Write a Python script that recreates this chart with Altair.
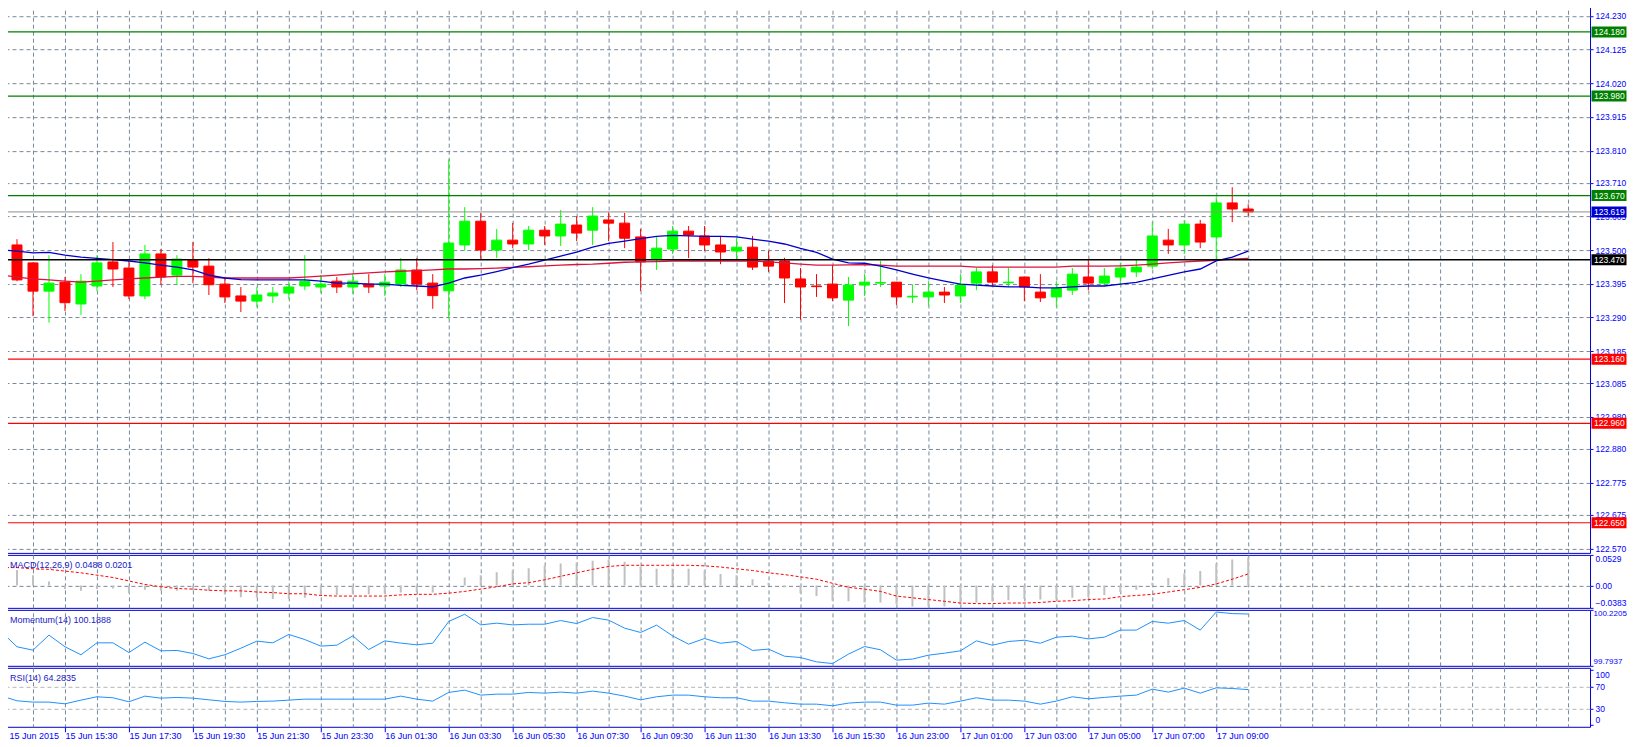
import json
import numpy as np
import pandas as pd
import altair as alt

# ---------------- data (USDJPY-like M30 bars) ----------------
opens = [123.590, 123.516, 123.460, 123.372, 123.400, 123.332, 123.388, 123.463, 123.444, 123.357,
         123.488, 123.422, 123.468, 123.450, 123.394, 123.357, 123.341, 123.357, 123.366, 123.388,
         123.385, 123.403, 123.385, 123.394, 123.388, 123.394, 123.438, 123.397, 123.373, 123.516,
         123.590, 123.500, 123.531, 123.519, 123.562, 123.544, 123.578, 123.562, 123.594, 123.584,
         123.541, 123.472, 123.503, 123.559, 123.544, 123.516, 123.497, 123.509, 123.466, 123.466,
         123.410, 123.388, 123.394, 123.344, 123.391, 123.397, 123.400, 123.354, 123.354, 123.369,
         123.357, 123.397, 123.432, 123.398, 123.416, 123.369, 123.354, 123.375, 123.416, 123.397,
         123.416, 123.432, 123.450, 123.531, 123.516, 123.581, 123.541, 123.647, 123.628]
highs = [123.616, 123.534, 123.462, 123.484, 123.416, 123.425, 123.484, 123.525, 123.466, 123.516,
         123.503, 123.484, 123.525, 123.475, 123.414, 123.385, 123.385, 123.385, 123.403, 123.484,
         123.422, 123.416, 123.425, 123.425, 123.425, 123.475, 123.475, 123.425, 123.783, 123.634,
         123.616, 123.566, 123.585, 123.575, 123.575, 123.625, 123.606, 123.634, 123.618, 123.616,
         123.566, 123.541, 123.575, 123.575, 123.575, 123.544, 123.537, 123.544, 123.497, 123.476,
         123.444, 123.425, 123.453, 123.416, 123.425, 123.466, 123.401, 123.393, 123.403, 123.385,
         123.425, 123.445, 123.453, 123.444, 123.417, 123.425, 123.403, 123.444, 123.469, 123.444,
         123.460, 123.469, 123.587, 123.566, 123.594, 123.594, 123.665, 123.696, 123.643]
lows = [123.492, 123.403, 123.294, 123.274, 123.310, 123.298, 123.372, 123.385, 123.347, 123.347,
        123.392, 123.392, 123.397, 123.360, 123.335, 123.307, 123.322, 123.335, 123.347, 123.375,
        123.366, 123.366, 123.363, 123.366, 123.357, 123.385, 123.375, 123.317, 123.286, 123.498,
        123.473, 123.475, 123.506, 123.500, 123.516, 123.513, 123.528, 123.516, 123.528, 123.506,
        123.372, 123.438, 123.488, 123.475, 123.497, 123.456, 123.469, 123.438, 123.432, 123.335,
        123.283, 123.354, 123.341, 123.263, 123.357, 123.385, 123.329, 123.335, 123.326, 123.335,
        123.335, 123.375, 123.388, 123.385, 123.341, 123.338, 123.322, 123.360, 123.375, 123.388,
        123.391, 123.416, 123.441, 123.488, 123.488, 123.506, 123.466, 123.587, 123.606]
closes = [123.510, 123.407, 123.372, 123.397, 123.336, 123.403, 123.460, 123.441, 123.357, 123.488,
          123.416, 123.472, 123.447, 123.392, 123.354, 123.341, 123.360, 123.366, 123.385, 123.403,
          123.394, 123.385, 123.403, 123.385, 123.400, 123.438, 123.394, 123.358, 123.522, 123.590,
          123.500, 123.531, 123.519, 123.562, 123.544, 123.581, 123.553, 123.606, 123.584, 123.537,
          123.463, 123.506, 123.559, 123.547, 123.516, 123.494, 123.509, 123.447, 123.450, 123.413,
          123.385, 123.386, 123.351, 123.391, 123.400, 123.399, 123.354, 123.356, 123.369, 123.360,
          123.391, 123.432, 123.400, 123.400, 123.385, 123.351, 123.380, 123.425, 123.397, 123.419,
          123.444, 123.447, 123.544, 123.516, 123.581, 123.525, 123.647, 123.628, 123.619]
ma_fast = [123.501, 123.497, 123.491, 123.493, 123.484, 123.478, 123.474, 123.470, 123.466, 123.460,
           123.453, 123.447, 123.438, 123.422, 123.413, 123.408, 123.407, 123.407, 123.407, 123.407,
           123.403, 123.397, 123.397, 123.394, 123.394, 123.390, 123.388, 123.385, 123.397, 123.413,
           123.422, 123.433, 123.445, 123.456, 123.469, 123.481, 123.494, 123.509, 123.521, 123.528,
           123.536, 123.543, 123.546, 123.544, 123.543, 123.543, 123.541, 123.534, 123.528, 123.519,
           123.505, 123.493, 123.472, 123.460, 123.459, 123.450, 123.438, 123.425, 123.413, 123.403,
           123.394, 123.391, 123.388, 123.385, 123.385, 123.382, 123.382, 123.385, 123.388, 123.388,
           123.394, 123.399, 123.410, 123.421, 123.432, 123.441, 123.466, 123.478, 123.497]
ma_slow = [123.422, 123.416, 123.410, 123.407, 123.403, 123.400, 123.403, 123.407, 123.410, 123.413,
           123.416, 123.418, 123.418, 123.416, 123.413, 123.413, 123.413, 123.413, 123.413, 123.416,
           123.419, 123.422, 123.426, 123.429, 123.432, 123.434, 123.436, 123.438, 123.441, 123.441,
           123.442, 123.444, 123.446, 123.448, 123.451, 123.453, 123.455, 123.456, 123.459, 123.462,
           123.463, 123.464, 123.466, 123.466, 123.466, 123.466, 123.466, 123.466, 123.463, 123.460,
           123.456, 123.453, 123.453, 123.454, 123.455, 123.453, 123.450, 123.450, 123.450, 123.450,
           123.450, 123.447, 123.447, 123.447, 123.447, 123.447, 123.447, 123.450, 123.450, 123.450,
           123.451, 123.453, 123.456, 123.460, 123.463, 123.466, 123.468, 123.472, 123.474]
macd_main = [0.0358, 0.0268, 0.0179, 0.0072, -0.006, -0.009, -0.006, -0.005, -0.013, -0.007,
             -0.009, -0.009, -0.008, -0.009, -0.015, -0.020, -0.021, -0.023, -0.023, -0.021,
             -0.016, -0.016, -0.015, -0.015, -0.014, -0.012, -0.011, -0.012, -0.001, 0.014,
             0.018, 0.023, 0.026, 0.030, 0.034, 0.038, 0.040, 0.043, 0.045, 0.041,
             0.033, 0.029, 0.029, 0.029, 0.026, 0.020, 0.018, 0.011, 0.005, -0.003,
             -0.013, -0.018, -0.026, -0.027, -0.029, -0.029, -0.032, -0.036, -0.036, -0.036,
             -0.033, -0.029, -0.027, -0.025, -0.023, -0.024, -0.024, -0.021, -0.020, -0.016,
             -0.011, -0.007, 0.005, 0.013, 0.021, 0.025, 0.038, 0.045, 0.0488]
macd_signal = [0.031, 0.031, 0.029, 0.028, 0.025, 0.022, 0.018, 0.014, 0.008, 0.002,
               -0.002, -0.005, -0.006, -0.008, -0.009, -0.009, -0.011, -0.012, -0.014, -0.014,
               -0.017, -0.018, -0.018, -0.018, -0.018, -0.016, -0.015, -0.015, -0.013, -0.010,
               -0.006, -0.002, 0.003, 0.005, 0.010, 0.016, 0.022, 0.028, 0.033, 0.035,
               0.035, 0.035, 0.035, 0.035, 0.034, 0.032, 0.029, 0.026, 0.022, 0.019,
               0.015, 0.011, 0.004, -0.003, -0.006, -0.010, -0.018, -0.021, -0.024, -0.027,
               -0.030, -0.031, -0.031, -0.030, -0.030, -0.029, -0.027, -0.026, -0.024, -0.023,
               -0.019, -0.017, -0.015, -0.011, -0.007, -0.003, 0.003, 0.011, 0.0201]
momentum = [100.055, 99.939, 99.913, 100.028, 99.939, 99.878, 99.969, 99.969, 99.895, 99.974,
            99.908, 99.911, 99.888, 99.847, 99.878, 99.928, 99.982, 99.969, 100.033, 99.994,
            99.944, 99.951, 100.022, 99.918, 99.984, 99.967, 99.954, 99.966, 100.132, 100.187,
            100.106, 100.119, 100.106, 100.111, 100.111, 100.139, 100.116, 100.162, 100.142, 100.081,
            100.048, 100.104, 100.022, 99.959, 100.002, 99.966, 99.979, 99.911, 99.921, 99.867,
            99.857, 99.824, 99.811, 99.883, 99.941, 99.916, 99.837, 99.845, 99.875, 99.890,
            99.908, 99.984, 99.951, 99.979, 99.989, 99.966, 100.012, 100.020, 99.999, 100.012,
            100.066, 100.066, 100.132, 100.119, 100.139, 100.066, 100.204, 100.192, 100.1888]
rsi = [53.1, 44.0, 41.6, 41.6, 38.5, 45.2, 51.3, 49.5, 42.2, 52.5,
       48.8, 50.1, 48.8, 45.8, 42.8, 41.6, 42.8, 43.4, 45.2, 47.0,
       47.0, 47.0, 47.0, 47.0, 47.0, 52.5, 47.0, 43.4, 59.2, 63.4,
       54.3, 56.1, 56.1, 59.2, 57.9, 59.8, 57.9, 61.6, 57.9, 52.5,
       45.8, 51.3, 54.3, 54.3, 51.3, 49.5, 49.5, 43.4, 43.4, 40.4,
       37.9, 37.9, 34.9, 39.8, 41.6, 41.6, 36.1, 36.1, 39.8, 37.9,
       43.4, 49.5, 45.2, 45.2, 43.4, 37.9, 43.4, 51.3, 47.6, 50.1,
       52.5, 54.3, 65.2, 59.8, 67.0, 57.9, 67.6, 66.4, 64.2835]

time_labels = ["15 Jun 2015", "15 Jun 15:30", "15 Jun 17:30", "15 Jun 19:30", "15 Jun 21:30",
               "15 Jun 23:30", "16 Jun 01:30", "16 Jun 03:30", "16 Jun 05:30", "16 Jun 07:30",
               "16 Jun 09:30", "16 Jun 11:30", "16 Jun 13:30", "16 Jun 15:30", "16 Jun 23:00",
               "17 Jun 01:00", "17 Jun 03:00", "17 Jun 05:00", "17 Jun 07:00", "17 Jun 09:00"]
price_ticks = [124.230, 124.125, 124.020, 123.915, 123.810, 123.710, 123.605, 123.500, 123.395,
               123.290, 123.185, 123.085, 122.980, 122.880, 122.775, 122.675, 122.570]
level_prices = [124.180, 123.980, 123.670, 123.619, 123.470, 123.160, 122.960, 122.650]
level_kinds = ["res", "res", "res", "bid", "pivot", "sup", "sup", "sup"]
macd_ticks = [-0.0383, 0.0, 0.0529]
mom_ticks = [99.7937, 100.2205]
rsi_ticks = [0, 30, 70, 100]

# ---------------- styles ----------------
FONT = "Liberation Sans"
AXIS_BLUE = "#0000ff"
FRAME_BLUE = "#0000cc"
TITLE_COLOR = "#2020c8"
GRID = "#778899"
DASH = [4, 3]
W = 1590
H_MAIN, H_MACD, H_MOM, H_RSI = 552, 53, 56, 59
RFS = 8.5            # right-axis label font size
LINE_COLOR = {"res": "#008000", "bid": "#909090", "pivot": "#000000", "sup": "#ff0000"}
BOX_COLOR = {"res": "#008000", "bid": "#0000cd", "pivot": "#000000", "sup": "#ff0000"}
LINE_W = {"res": 1.2, "bid": 1.0, "pivot": 1.6, "sup": 1.2}

n = len(closes)
df = pd.DataFrame({"i": np.arange(n), "open": opens, "high": highs, "low": lows, "close": closes,
                   "ma_fast": ma_fast, "ma_slow": ma_slow, "macd": macd_main, "signal": macd_signal,
                   "mom": momentum, "rsi": rsi})
df["dir"] = np.where(df["close"] >= df["open"], "up", "down")

lv = pd.DataFrame({"price": level_prices, "kind": level_kinds})
lv["line_color"] = lv["kind"].map(LINE_COLOR)
lv["box_color"] = lv["kind"].map(BOX_COLOR)
lv["lw"] = lv["kind"].map(LINE_W)
lv["label"] = lv["price"].map(lambda v: f"{v:.3f}")

xscale = alt.Scale(domain=[0, 99.375], nice=False, zero=False, padding=0)
grid_vals = list(range(2, 100, 2))

grid_x_axis = alt.Axis(values=grid_vals, grid=True, gridColor=GRID, gridDash=DASH, gridWidth=1,
                       labels=False, ticks=False, domain=False, title=None, orient="top")
X = alt.X("i:Q", scale=xscale, axis=grid_x_axis)


def right_axis(values, **kw):
    base = dict(values=values, orient="right", title=None, domain=False, tickColor=AXIS_BLUE,
                tickSize=3, tickWidth=1, labelColor=AXIS_BLUE, labelFont=FONT, labelFontSize=RFS,
                labelPadding=2, labelOverlap=False, labelBound=False)
    base.update(kw)
    return alt.Axis(**base)


def title_layer(text):
    return alt.Chart(pd.DataFrame({"t": [text]})).mark_text(
        align="left", baseline="middle", font=FONT, fontSize=9, color=TITLE_COLOR
    ).encode(x=alt.value(9), y=alt.value(10), text="t:N")


# ---------------- main price panel ----------------
PX_PER_PRICE = 0.0031156
y_top = 124.2758
ymain = alt.Scale(domain=[y_top - H_MAIN * PX_PER_PRICE, y_top], nice=False, zero=False, padding=0)
main_axis = right_axis(price_ticks, format=".3f", grid=True, gridColor=GRID, gridDash=DASH,
                       labelFlush=False)
cscale = alt.Scale(domain=["up", "down"], range=["#00ff00", "#ff0000"])

wicks = alt.Chart(df).mark_rule(strokeWidth=1, clip=True).encode(
    x=X, y=alt.Y("low:Q", scale=ymain, axis=main_axis), y2="high:Q",
    color=alt.Color("dir:N", scale=cscale, legend=None))
bodies = alt.Chart(df).mark_bar(width=10, strokeWidth=1, clip=True).encode(
    x=X, y=alt.Y("open:Q", scale=ymain, axis=main_axis), y2="close:Q",
    fill=alt.Fill("dir:N", scale=cscale, legend=None),
    stroke=alt.Stroke("dir:N", scale=cscale, legend=None))
slow_line = alt.Chart(df).mark_line(color="#dc143c", strokeWidth=1.3, clip=True).encode(
    x=X, y=alt.Y("ma_slow:Q", scale=ymain, axis=main_axis))
fast_line = alt.Chart(df).mark_line(color="#0000cd", strokeWidth=1.3, clip=True).encode(
    x=X, y=alt.Y("ma_fast:Q", scale=ymain, axis=main_axis))
level_rules = alt.Chart(lv).mark_rule(clip=True).encode(
    y=alt.Y("price:Q", scale=ymain, axis=main_axis),
    color=alt.Color("line_color:N", scale=None),
    strokeWidth=alt.StrokeWidth("lw:Q", scale=None))
level_boxes = alt.Chart(lv).mark_tick(orient="horizontal", size=35, thickness=11, opacity=1).encode(
    y=alt.Y("price:Q", scale=ymain, axis=main_axis), x=alt.value(W + 19),
    color=alt.Color("box_color:N", scale=None))
level_text = alt.Chart(lv).mark_text(align="left", baseline="middle", font=FONT, fontSize=RFS,
                                     color="white").encode(
    y=alt.Y("price:Q", scale=ymain, axis=main_axis), x=alt.value(W + 4), text="label:N")

main = alt.layer(wicks, bodies, slow_line, fast_line, level_rules, level_boxes, level_text).properties(
    width=W, height=H_MAIN)

# ---------------- MACD panel ----------------
ymacd = alt.Scale(domain=[macd_ticks[0], macd_ticks[-1]], nice=False, zero=False, padding=0)
macd_axis = right_axis(macd_ticks, labelExpr="datum.value === 0 ? '0.00' : format(datum.value, '.4f')",
                       grid=True, gridColor=GRID, gridDash=DASH,
                       gridOpacity={"condition": {"test": "datum.value === 0", "value": 1}, "value": 0},
                       labelFlush=1)
hist = alt.Chart(df).mark_bar(width=2, color="#c0c0c0", clip=True).encode(
    x=X, y=alt.Y("macd:Q", scale=ymacd, axis=macd_axis), y2=alt.datum(0))
sig = alt.Chart(df).mark_line(color="#ff0000", strokeWidth=1, strokeDash=[3, 2], clip=True).encode(
    x=X, y=alt.Y("signal:Q", scale=ymacd, axis=macd_axis))
macd_panel = alt.layer(hist, sig, title_layer(
    f"MACD(12,26,9) {macd_main[-1]:.4f} {macd_signal[-1]:.4f}")).properties(width=W, height=H_MACD)

# ---------------- Momentum panel ----------------
ymom = alt.Scale(domain=[mom_ticks[0], mom_ticks[-1]], nice=False, zero=False, padding=0)
mom_axis = right_axis(mom_ticks, format=".4f", grid=False, labelFlush=1, labelFontSize=8,
                      labelPadding=0)
mom_line = alt.Chart(df).mark_line(color="#1e90ff", strokeWidth=1, clip=True).encode(
    x=X, y=alt.Y("mom:Q", scale=ymom, axis=mom_axis))
mom_panel = alt.layer(mom_line, title_layer(f"Momentum(14) {momentum[-1]:.4f}")).properties(
    width=W, height=H_MOM)

# ---------------- RSI panel with time axis ----------------
yrsi = alt.Scale(domain=[-3.3, 104], nice=False, zero=False, padding=0)
rsi_axis = right_axis(rsi_ticks, format="d", grid=True, gridColor="#b4b4b4", gridDash=DASH,
                      gridOpacity={"condition": {"test": "datum.value === 30 || datum.value === 70",
                                                 "value": 1}, "value": 0},
                      labelFlush=3)
last_lab = 4 * (len(time_labels) - 1)
tl_js = json.dumps(time_labels)
time_axis = alt.Axis(
    values=[0.5] + grid_vals, orient="bottom", title=None, domain=False,
    grid=True, gridColor=GRID, gridDash=DASH,
    gridOpacity={"condition": {"test": "datum.value % 2 === 0", "value": 1}, "value": 0},
    ticks=True, tickColor=AXIS_BLUE, tickSize=5, tickWidth=1,
    tickOpacity={"condition": {"test": f"datum.value % 4 === 0 && datum.value <= {last_lab}",
                               "value": 1}, "value": 0},
    labelExpr=(f"(datum.value < 1 || (datum.value % 4 === 0 && datum.value <= {last_lab})) "
               f"? {tl_js}[round(datum.value / 4)] : ''"),
    labelAlign="left", labelBaseline="top", labelPadding=0, labelColor=AXIS_BLUE, labelFont=FONT,
    labelFontSize=9, labelOverlap=False, labelFlush=False, labelBound=False)
rsi_line = alt.Chart(df).mark_line(color="#1e90ff", strokeWidth=1, clip=True).encode(
    x=alt.X("i:Q", scale=xscale, axis=time_axis), y=alt.Y("rsi:Q", scale=yrsi, axis=rsi_axis))
rsi_panel = alt.layer(rsi_line, title_layer(f"RSI(14) {rsi[-1]:.4f}")).properties(
    width=W, height=H_RSI)

# the page container is 1619 px wide starting at x=8: keep the drawing inside it so it is not rescaled
chart = alt.vconcat(main, macd_panel, mom_panel, rsi_panel, spacing=2, bounds="flush").properties(
    padding={"left": -8, "top": -8, "right": 0, "bottom": 0}
).configure(background="white").configure_view(stroke=FRAME_BLUE, strokeWidth=1)

chart.save("out.html", embed_options={"renderer": "svg", "actions": False})
